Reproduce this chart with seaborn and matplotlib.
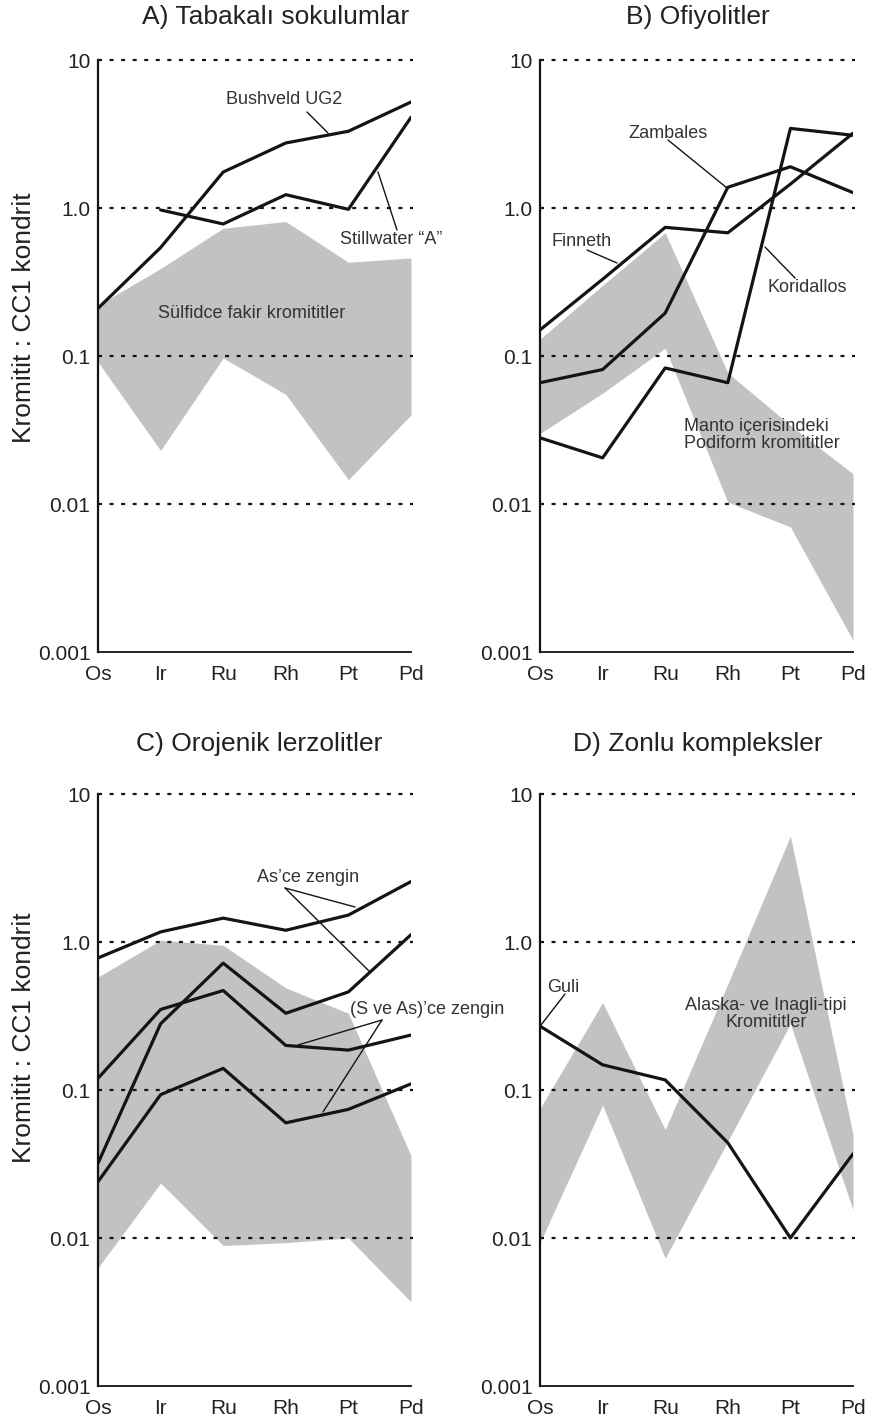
import numpy as np
import pandas as pd
import matplotlib
matplotlib.use("Agg")
import matplotlib.pyplot as plt
import seaborn as sns

# ---------------- data ----------------
elements = ["Os", "Ir", "Ru", "Rh", "Pt", "Pd"]
ytick_vals = [0.001, 0.01, 0.1, 1.0, 10.0]
ytick_labels = ["0.001", "0.01", "0.1", "1.0", "10"]
grid_levels = [0.01, 0.1, 1.0, 10.0]

# A) Tabakalı sokulumlar
a_bushveld = [0.21, 0.54, 1.75, 2.75, 3.3, 5.2]
a_stillwater = [np.nan, 0.97, 0.78, 1.23, 0.98, 4.1]
a_band_hi = [0.22, 0.39, 0.73, 0.81, 0.43, 0.46]
a_band_lo = [0.091, 0.023, 0.097, 0.055, 0.0146, 0.040]

# B) Ofiyolitler
b_finneth = [0.15, 0.33, 0.74, 0.68, 1.45, 3.2]
b_zambales = [0.066, 0.081, 0.195, 1.38, 1.9, 1.27]
b_koridallos = [0.028, 0.0205, 0.083, 0.066, 3.45, 3.1]
b_band_hi = [0.13, 0.30, 0.68, 0.077, 0.034, 0.016]
b_band_lo = [0.030, 0.056, 0.113, 0.0103, 0.0070, 0.0012]

# C) Orojenik lerzolitler
c_as_1 = [0.78, 1.17, 1.45, 1.2, 1.52, 2.56]
c_as_2 = [0.032, 0.28, 0.72, 0.33, 0.46, 1.12]
c_sas_1 = [0.12, 0.35, 0.47, 0.20, 0.186, 0.235]
c_sas_2 = [0.024, 0.093, 0.14, 0.060, 0.074, 0.11]
c_band_hi = [0.58, 1.03, 0.95, 0.49, 0.33, 0.036]
c_band_lo = [0.0063, 0.0235, 0.0089, 0.0093, 0.010, 0.0037]

# D) Zonlu kompleksler
d_guli = [0.27, 0.148, 0.117, 0.044, 0.010, 0.037]
d_band_hi = [0.075, 0.39, 0.054, 0.52, 5.2, 0.050]
d_band_lo = [0.0093, 0.079, 0.0073, 0.045, 0.28, 0.0155]

# ---------------- style ----------------
sns.set_style("white")
plt.rcParams["font.family"] = ["Liberation Sans", "DejaVu Sans"]

W, H = 872, 1421
fig = plt.figure(figsize=(W / 100, H / 100), dpi=100)

LINE_C = "#141414"
TEXT_C = "#333333"
GRAY = "#c2c2c2"
DEC = 148.0      # pixels per decade
UNIT = 62.6      # pixels per element step

panels = {
    "A": dict(x0=98, ybot=652),
    "B": dict(x0=540, ybot=652),
    "C": dict(x0=98, ybot=1386),
    "D": dict(x0=540, ybot=1386),
}


def make_ax(x0, ybot):
    left = x0 / W
    width = 5 * UNIT / W
    bottom = 1 - ybot / H
    height = 4 * DEC / H
    ax = fig.add_axes([left, bottom, width, height])
    return ax


def P(key, px, py):
    p = panels[key]
    return (px - p["x0"]) / UNIT, 10 ** ((p["ybot"] - py) / DEC - 3)


def style_ax(ax):
    ax.set_yscale("log")
    ax.set_ylim(0.001, 10)
    ax.set_xlim(0, 5)
    ax.set_yticks(ytick_vals)
    ax.set_yticklabels(ytick_labels)
    ax.minorticks_off()
    ax.set_xticks(range(len(elements)))
    ax.set_xticklabels(elements)
    for s in ["top", "right"]:
        ax.spines[s].set_visible(False)
    ax.spines["left"].set_linewidth(1.6)
    ax.spines["bottom"].set_linewidth(1.3)
    ax.spines["left"].set_color(LINE_C)
    ax.spines["bottom"].set_color(LINE_C)
    ax.tick_params(axis="both", which="both", direction="out", length=3.5,
                   width=1.2, color=LINE_C, labelsize=15, labelcolor="#222222")
    ax.tick_params(axis="y", pad=2)
    ax.tick_params(axis="x", pad=5.5)
    ax.set_xlabel("")
    ax.set_ylabel("")
    for lv in grid_levels:
        ax.plot([0, 5.03], [lv, lv], color=LINE_C, lw=1.6,
                linestyle=(0, (1.8, 3.4)), zorder=2, clip_on=False)


def band(ax, lo, hi):
    ax.fill_between(range(len(elements)), lo, hi, color=GRAY, lw=0, zorder=1)


def line(ax, vals):
    df = pd.DataFrame({"x": range(len(elements)), "y": vals}).dropna()
    sns.lineplot(data=df, x="x", y="y", ax=ax, color=LINE_C, linewidth=2.3,
                 estimator=None, sort=False, zorder=3)


def leader(ax, key, p1, p2):
    a = P(key, *p1)
    b = P(key, *p2)
    ax.plot([a[0], b[0]], [a[1], b[1]], color=LINE_C, lw=1.0, zorder=4,
            clip_on=False)


def label(ax, key, px, py, s, ha="center", **kw):
    x, y = P(key, px, py)
    ax.text(x, y, s, ha=ha, va="center", fontsize=13, color=TEXT_C,
            zorder=5, **kw)


# ---------------- panel A ----------------
axA = make_ax(**panels["A"])
band(axA, a_band_lo, a_band_hi)
line(axA, a_bushveld)
line(axA, a_stillwater)
style_ax(axA)
label(axA, "A", 284, 100, "Bushveld UG2")
leader(axA, "A", (307, 112), (328, 133))
label(axA, "A", 340, 240, "Stillwater \u201cA\u201d", ha="left")
leader(axA, "A", (378, 172), (397, 230))
label(axA, "A", 252, 313, "Sülfidce fakir kromititler")

# ---------------- panel B ----------------
axB = make_ax(**panels["B"])
band(axB, b_band_lo, b_band_hi)
line(axB, b_finneth)
line(axB, b_zambales)
line(axB, b_koridallos)
style_ax(axB)
label(axB, "B", 668, 133, "Zambales")
leader(axB, "B", (668, 140), (727, 188))
label(axB, "B", 582, 241, "Finneth")
leader(axB, "B", (587, 250), (617, 263))
label(axB, "B", 807, 287, "Koridallos")
leader(axB, "B", (765, 247), (795, 278))
label(axB, "B", 684, 435, "Manto içerisindeki\nPodiform kromititler",
      ha="left", linespacing=0.95)

# ---------------- panel C ----------------
axC = make_ax(**panels["C"])
band(axC, c_band_lo, c_band_hi)
line(axC, c_as_1)
line(axC, c_as_2)
line(axC, c_sas_1)
line(axC, c_sas_2)
style_ax(axC)
label(axC, "C", 308, 878, "As\u2019ce zengin")
leader(axC, "C", (285, 888), (355, 907))
leader(axC, "C", (285, 888), (370, 972))
label(axC, "C", 350, 1009, "(S ve As)\u2019ce zengin", ha="left")
leader(axC, "C", (382, 1020), (298, 1045))
leader(axC, "C", (382, 1020), (323, 1112))

# ---------------- panel D ----------------
axD = make_ax(**panels["D"])
band(axD, d_band_lo, d_band_hi)
line(axD, d_guli)
style_ax(axD)
label(axD, "D", 563, 987, "Guli")
leader(axD, "D", (565, 994), (541, 1025))
label(axD, "D", 766, 1014, "Alaska- ve Inagli-tipi\nKromititler",
      linespacing=0.95)

# ---------------- titles / y labels ----------------
tkw = dict(ha="center", va="center", fontsize=19, color="#222222")
fig.text(276 / W, 1 - 17 / H, "A) Tabakalı sokulumlar", **tkw)
fig.text(698 / W, 1 - 17 / H, "B) Ofiyolitler", **tkw)
fig.text(259 / W, 1 - 744 / H, "C) Orojenik lerzolitler", **tkw)
fig.text(698 / W, 1 - 744 / H, "D) Zonlu kompleksler", **tkw)

ykw = dict(ha="center", va="center", rotation=90, fontsize=19,
           color="#222222")
fig.text(24 / W, 1 - 318 / H, "Kromitit : CC1 kondrit", **ykw)
fig.text(24 / W, 1 - 1038 / H, "Kromitit : CC1 kondrit", **ykw)

fig.savefig("out.png", dpi=100, facecolor="white")
